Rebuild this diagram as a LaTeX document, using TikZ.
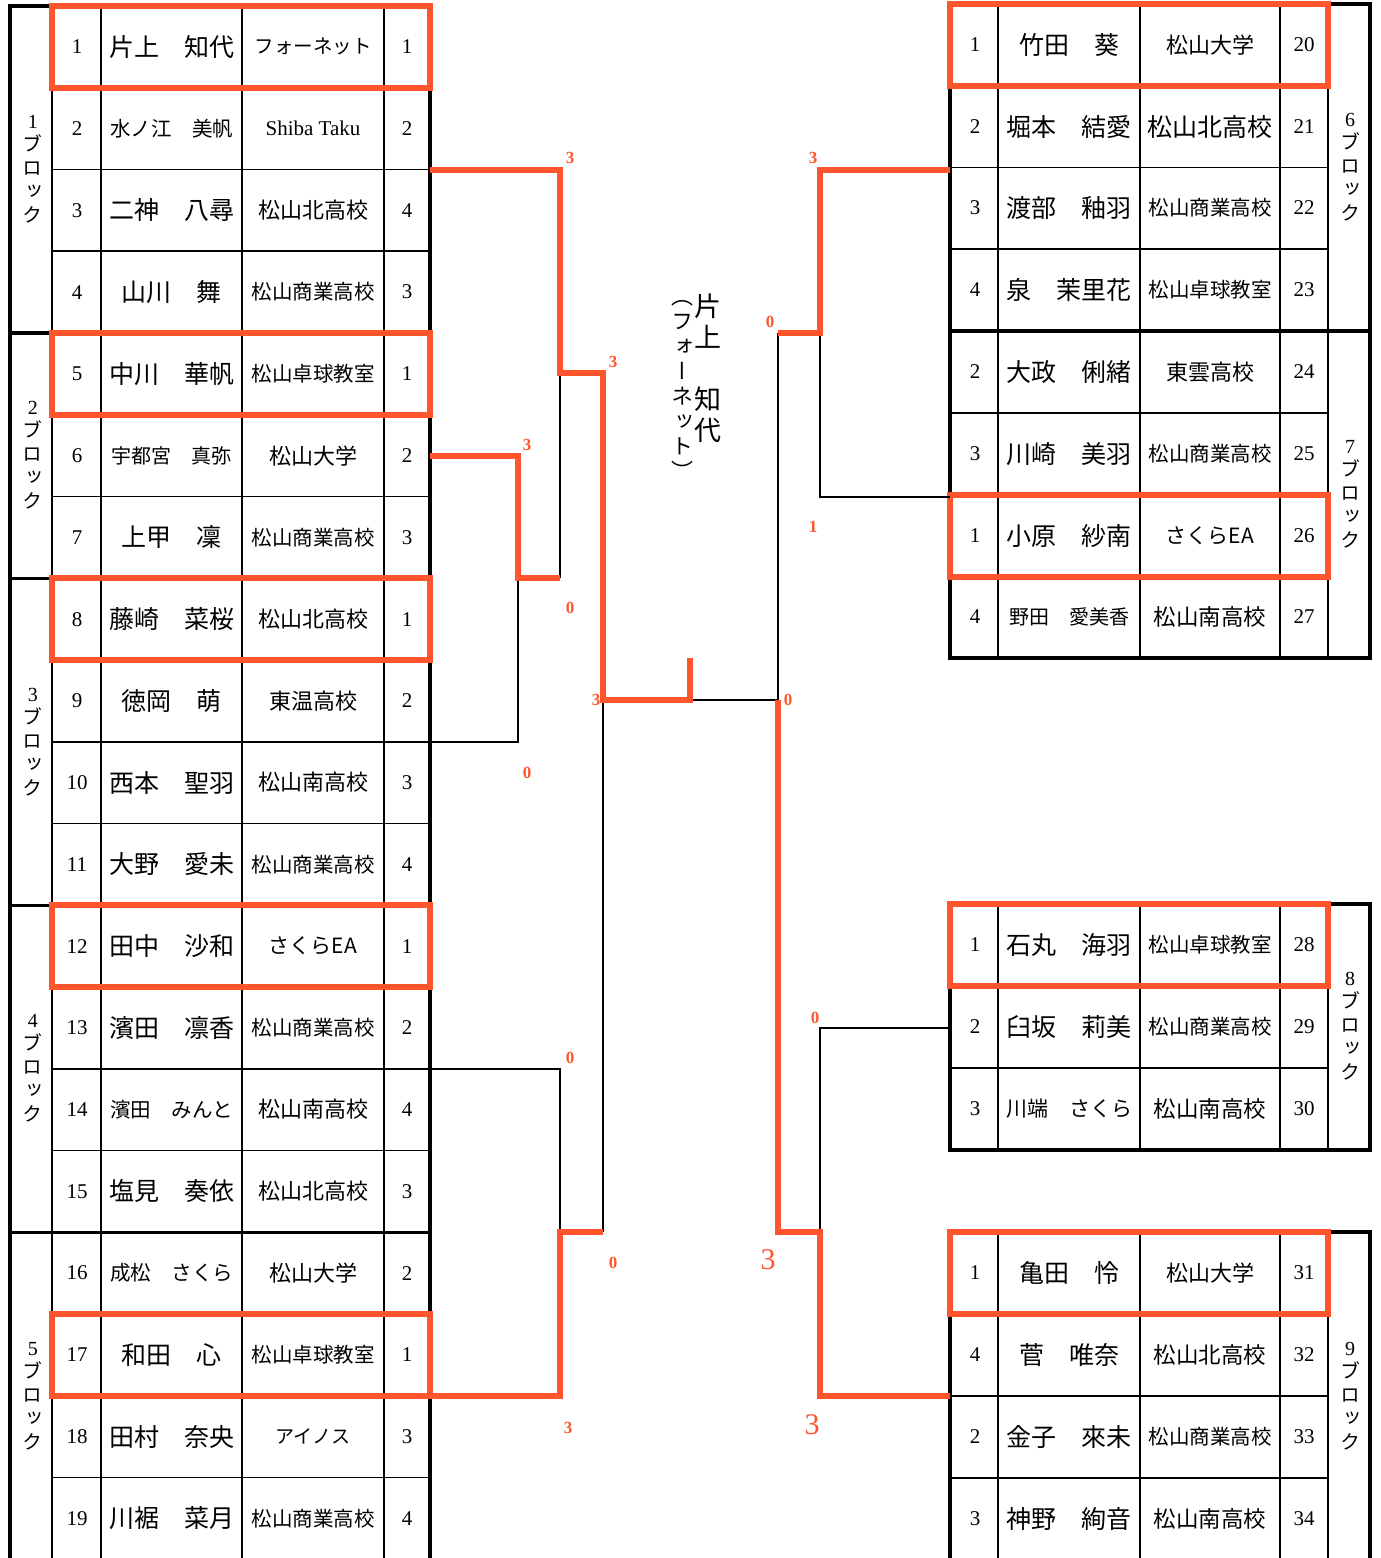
\documentclass[tikz,border=0pt]{standalone}
\usepackage{fontspec}
\setmainfont{Liberation Serif}
\newfontfamily\jp{Noto Sans CJK JP}
\newfontfamily\jpv[RawFeature=+vert]{Noto Sans CJK JP}
\definecolor{hl}{RGB}{255,85,45}
\begin{document}
\begin{tikzpicture}[x=1pt,y=-1pt,
  thin line/.style={line width=1.8pt,black},
  thick line/.style={line width=3.5pt,black},
  redbox/.style={line width=5.5pt,hl,line join=miter},
  win/.style={line width=6pt,hl,line join=miter},
  lose/.style={line width=2pt,black},
  numtxt/.style={inner sep=0,font=\fontsize{21}{21}\selectfont},
  blk/.style={inner sep=0,align=center,font=\jpv\fontsize{20}{23.5}\selectfont},
  score/.style={inner sep=0,text=hl,font=\bfseries\fontsize{17}{17}\selectfont},
  bigscore/.style={inner sep=0,text=hl,font=\fontsize{30}{30}\selectfont}]
\useasboundingbox (0,0) rectangle (1381,1558);
\fill[white] (0,0) rectangle (1381,1558);

% ---------------- left table grid ----------------
\foreach \k in {1,...,18} \draw[thin line] (52,{6+81.75*\k}) -- (430,{6+81.75*\k});
\foreach \x in {52,101,242,384} \draw[thin line] (\x,6) -- (\x,1560);
\foreach \k in {4,7,11,15} \draw[thick line] (10,{6+81.75*\k}) -- (430,{6+81.75*\k});
\draw[thick line] (10,1562) -- (10,6) -- (430,6) -- (430,1562);

% ---------------- right tables grid ----------------
\foreach \k in {1,2,3,5,6,7} \draw[thin line] (950,{4+81.75*\k}) -- (1328,{4+81.75*\k});
\draw[thick line] (950,331) -- (1370,331);
\foreach \x in {998,1140,1280,1328} \draw[thin line] (\x,4) -- (\x,658);
\draw[thick line] (950,4) rectangle (1370,658);

\foreach \k in {1,2} \draw[thin line] (950,{904+82*\k}) -- (1328,{904+82*\k});
\foreach \x in {998,1140,1280,1328} \draw[thin line] (\x,904) -- (\x,1150);
\draw[thick line] (950,904) rectangle (1370,1150);

\foreach \k in {1,2,3} \draw[thin line] (950,{1232+82*\k}) -- (1328,{1232+82*\k});
\foreach \x in {998,1140,1280,1328} \draw[thin line] (\x,1232) -- (\x,1560);
\draw[thick line] (950,1562) -- (950,1232) -- (1370,1232) -- (1370,1562);

% ---------------- left table text ----------------
\foreach \k/\nm/\ns/\sc/\ss/\r in {
1/片上　知代/25/フォーネット/19.5/1,
2/水ノ江　美帆/20.5/{\rmfamily Shiba Taku}/21/2,
3/二神　八尋/25/松山北高校/22/4,
4/山川　舞/25/松山商業高校/20.5/3,
5/中川　華帆/25/松山卓球教室/20.5/1,
6/宇都宮　真弥/20/松山大学/22/2,
7/上甲　凜/25/松山商業高校/20.5/3,
8/藤崎　菜桜/25/松山北高校/22/1,
9/徳岡　萌/25/東温高校/22/2,
10/西本　聖羽/25/松山南高校/22/3,
11/大野　愛未/25/松山商業高校/20.5/4,
12/田中　沙和/25/さくらEA/21/1,
13/濱田　凛香/25/松山商業高校/20.5/2,
14/濱田　みんと/20.5/松山南高校/22/4,
15/塩見　奏依/25/松山北高校/22/3,
16/成松　さくら/20.5/松山大学/22/2,
17/和田　心/25/松山卓球教室/20.5/1,
18/田村　奈央/25/アイノス/19/3,
19/川裾　菜月/25/松山商業高校/20.5/4}{
  \pgfmathsetmacro\yc{6+81.75*(\k-0.5)}
  \node[numtxt] (lno\k) at (77,\yc) {\k};
  \node[inner sep=0,font=\jp\fontsize{\ns}{\ns}\selectfont] (lnm\k) at (171.5,\yc) {\nm};
  \node[inner sep=0,font=\jp\fontsize{\ss}{\ss}\selectfont] (lsc\k) at (313,\yc) {\sc};
  \node[numtxt] (lrk\k) at (407,\yc) {\r};
}

% ---------------- right tables text ----------------
\foreach \i/\y/\n/\nm/\ns/\sc/\ss/\r in {
1/45/1/竹田　葵/25/松山大学/22/20,
2/127/2/堀本　結愛/25/松山北高校/25/21,
3/208/3/渡部　釉羽/25/松山商業高校/20.5/22,
4/290/4/泉　茉里花/25/松山卓球教室/20.5/23,
5/372/2/大政　俐緒/25/東雲高校/22/24,
6/454/3/川崎　美羽/25/松山商業高校/20.5/25,
7/536/1/小原　紗南/25/さくらEA/21/26,
8/617/4/野田　愛美香/20/松山南高校/22.5/27,
9/945/1/石丸　海羽/25/松山卓球教室/20.5/28,
10/1027/2/臼坂　莉美/25/松山商業高校/20.5/29,
11/1109/3/川端　さくら/21/松山南高校/22.5/30,
12/1273/1/亀田　怜/25/松山大学/22/31,
13/1355/4/菅　唯奈/25/松山北高校/22.5/32,
14/1437/2/金子　來未/25/松山商業高校/20.5/33,
15/1519/3/神野　絢音/25/松山南高校/22.5/34}{
  \node[numtxt] (rno\i) at (975,\y) {\n};
  \node[inner sep=0,font=\jp\fontsize{\ns}{\ns}\selectfont] (rnm\i) at (1069,\y) {\nm};
  \node[inner sep=0,font=\jp\fontsize{\ss}{\ss}\selectfont] (rsc\i) at (1210,\y) {\sc};
  \node[numtxt] (rrk\i) at (1304,\y) {\r};
}

% ---------------- block labels ----------------
\foreach \b/\x/\y in {1/33/169,2/33/455,3/33/742,4/33/1068,5/33/1396,
                      6/1350/167,7/1350/494,8/1350/1026,9/1350/1396}
  \node[blk] (blk\b) at (\x,\y) {{\rmfamily\b}\\ブ\\ロ\\ッ\\ク};

% ---------------- red boxes ----------------
\foreach \a/\b in {6/88,333/415,578/660,905/987,1314/1396}
  \draw[redbox] (52,\a) rectangle (430,\b);
\foreach \a/\b in {4/86,495/577,904/986,1232/1314}
  \draw[redbox] (950,\a) rectangle (1328,\b);

% ---------------- bracket coordinates ----------------
\coordinate (L1) at (430,170);  \coordinate (L2) at (430,456);
\coordinate (L3) at (430,742);  \coordinate (L4) at (430,1069);
\coordinate (L5) at (430,1396);
\coordinate (a1) at (518,456);  \coordinate (am) at (518,578);  \coordinate (a2) at (518,742);
\coordinate (b1) at (560,170);  \coordinate (bm) at (560,373);  \coordinate (b2) at (560,578);
\coordinate (c1) at (560,1069); \coordinate (cm) at (560,1232); \coordinate (c2) at (560,1396);
\coordinate (d1) at (603,373);  \coordinate (dm) at (603,700);  \coordinate (d2) at (603,1232);
\coordinate (F)  at (690,700);  \coordinate (Ft) at (690,658);
\coordinate (R1) at (950,170);  \coordinate (R2) at (950,497);
\coordinate (R3) at (950,1028); \coordinate (R4) at (950,1396);
\coordinate (n1) at (820,170);  \coordinate (nm) at (820,333);  \coordinate (n2) at (820,497);
\coordinate (p1) at (820,1028); \coordinate (pm) at (820,1232); \coordinate (p2) at (820,1396);
\coordinate (q1) at (778,333);  \coordinate (qm) at (778,700);  \coordinate (q2) at (778,1232);

% losers (black)
\draw[lose] (bm) -- (b2);
\draw[lose] (am) -- (a2) -- (L3);
\draw[lose] (L4) -- (c1) -- (cm);
\draw[lose] (dm) -- (d2);
\draw[lose] (F) -- (qm);
\draw[lose] (R2) -- (n2) -- (nm);
\draw[lose] (R3) -- (p1) -- (pm);
\draw[lose] (q1) -- (qm);
% winners (red)
\draw[win] (L1) -- (b1) -- (bm) -- (d1) -- (dm) -- (F) -- (Ft);
\draw[win] (L2) -- (a1) -- (am) -- (b2);
\draw[win] (L5) -- (c2) -- (cm) -- (d2);
\draw[win] (R1) -- (n1) -- (nm) -- (q1);
\draw[win] (R4) -- (p2) -- (pm) -- (q2) -- (qm);

% ---------------- scores ----------------
\node[score] (s1) at (570,158) {3};
\node[score] (s2) at (613,362) {3};
\node[score] (s3) at (527,445) {3};
\node[score] (s4) at (570,608) {0};
\node[score] (s5) at (527,773) {0};
\node[score] (s6) at (596,700) {3};
\node[score] (s7) at (788,700) {0};
\node[score] (s8) at (570,1058) {0};
\node[score] (s9) at (568,1428) {3};
\node[score] (s10) at (613,1263) {0};
\node[score] (s11) at (813,158) {3};
\node[score] (s12) at (770,322) {0};
\node[score] (s13) at (813,527) {1};
\node[score] (s14) at (815,1018) {0};
\node[bigscore] (s15) at (768,1260) {3};
\node[bigscore] (s16) at (812,1425) {3};

% ---------------- champion (vertical text) ----------------
\node[inner sep=0,align=center,font=\jpv\fontsize{27}{31}\selectfont] (champ) at (708,368)
  {片\\上\\　\\知\\代};
\node[inner sep=0,align=center,font=\jpv\fontsize{22}{25}\selectfont] (champclub) at (682,390)
  {（\\フ\\ォ\\ー\\ネ\\ッ\\ト\\）};
\end{tikzpicture}
\end{document}
